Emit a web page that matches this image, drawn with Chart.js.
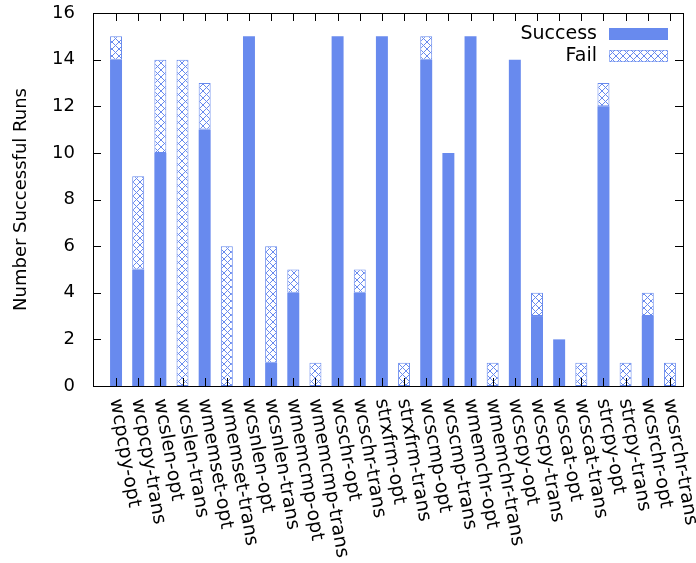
<!DOCTYPE html>
<html>
<head>
<meta charset="utf-8">
<script src="https://cdn.jsdelivr.net/npm/chart.js@4/dist/chart.umd.min.js"></script>
<style>
  html, body { margin: 0; padding: 0; background: #fff; }
  #wrap { width: 696px; height: 563px; }
</style>
</head>
<body>
<div id="wrap"><canvas id="grafico"></canvas></div>
<script>
// dados
const categorias = ['wcpcpy-opt', 'wcpcpy-trans', 'wcslen-opt', 'wcslen-trans', 'wmemset-opt', 'wmemset-trans',
    'wcsnlen-opt', 'wcsnlen-trans', 'wmemcmp-opt', 'wmemcmp-trans', 'wcschr-opt', 'wcschr-trans',
    'strxfrm-opt', 'strxfrm-trans', 'wcscmp-opt', 'wcscmp-trans', 'wmemchr-opt', 'wmemchr-trans',
    'wcscpy-opt', 'wcscpy-trans', 'wcscat-opt', 'wcscat-trans', 'strcpy-opt', 'strcpy-trans',
    'wcsrchr-opt', 'wcsrchr-trans'];
const sucesso = [14, 5, 10, 0, 11, 0, 15, 1, 4, 0, 15, 4, 15, 0, 14, 10, 15, 0, 14, 3, 2, 0, 12, 0, 3, 0];
const falha   = [1, 4, 4, 14, 2, 6, 0, 5, 1, 1, 0, 1, 0, 1, 1, 0, 0, 1, 0, 1, 0, 1, 1, 1, 1, 1];
const yTicks = [0, 2, 4, 6, 8, 10, 12, 14, 16];

const azul = 'rgb(104,138,238)';
const fonte = 'DejaVu Sans';

// padrão xadrez (hachura cruzada) para "Fail"
function criaHachura() {
    const c = document.createElement('canvas');
    c.width = 7; c.height = 7;
    const g = c.getContext('2d');
    g.fillStyle = '#fff';
    g.fillRect(0, 0, 7, 7);
    g.strokeStyle = azul;
    g.lineWidth = 1;
    g.beginPath();
    g.moveTo(0, 0); g.lineTo(7, 7);
    g.moveTo(7, 0); g.lineTo(0, 7);
    g.stroke();
    return g.createPattern(c, 'repeat');
}
const hachura = criaHachura();

// moldura, marcas internas, rótulos girados e legenda estilo gnuplot
const estiloGnuplot = {
    id: 'estiloGnuplot',
    afterDraw(chart) {
        const { ctx, chartArea: a, scales: { x, y } } = chart;
        ctx.save();
        ctx.strokeStyle = '#000';
        ctx.lineWidth = 1;
        ctx.strokeRect(a.left + 0.5, a.top + 0.5, a.right - a.left, a.bottom - a.top);
        ctx.beginPath();
        categorias.forEach((_, i) => {
            const px = Math.round(x.getPixelForValue(i)) + 0.5;
            ctx.moveTo(px, a.bottom); ctx.lineTo(px, a.bottom - 8);
            ctx.moveTo(px, a.top); ctx.lineTo(px, a.top + 8);
        });
        yTicks.forEach(v => {
            const py = Math.round(y.getPixelForValue(v)) + 0.5;
            ctx.moveTo(a.left, py); ctx.lineTo(a.left + 8, py);
            ctx.moveTo(a.right, py); ctx.lineTo(a.right - 8, py);
        });
        ctx.stroke();

        // rótulos do eixo x
        ctx.fillStyle = '#000';
        ctx.font = '19px "' + fonte + '"';
        ctx.textAlign = 'left';
        ctx.textBaseline = 'middle';
        categorias.forEach((lab, i) => {
            const px = x.getPixelForValue(i);
            ctx.save();
            ctx.translate(px - 1, a.bottom + 13);
            ctx.rotate(80 * Math.PI / 180);
            ctx.fillText(lab, 0, 0);
            ctx.restore();
        });

        // legenda
        ctx.font = '19px "' + fonte + '"';
        ctx.textAlign = 'right';
        const ds = chart.data.datasets;
        ds.forEach((d, i) => {
            const cy = 34 + i * 22;
            ctx.fillStyle = '#000';
            ctx.fillText(d.label, 597, cy);
            ctx.fillStyle = d.backgroundColor;
            ctx.fillRect(609, cy - 6, 59, 12);
            ctx.strokeStyle = 'rgba(104,138,238,0.6)';
            ctx.strokeRect(609.5, cy - 5.5, 58, 11);
        });
        ctx.restore();
    }
};

new Chart(grafico, {
    type: 'bar',
    data: {
        datasets: [
            { label: 'Success', data: sucesso.map((v, i) => ({ x: i, y: v })), backgroundColor: azul, borderWidth: 0 },
            { label: 'Fail', data: falha.map((v, i) => ({ x: i, y: v })), backgroundColor: hachura, borderColor: azul, borderWidth: 1, borderSkipped: false }
        ]
    },
    options: {
        responsive: true,
        maintainAspectRatio: false,
        animation: false,
        layout: { padding: { top: 13, right: 13, bottom: 177, left: 0 } },
        datasets: { bar: { barPercentage: 0.54, categoryPercentage: 1 } },
        plugins: { legend: { display: false }, tooltip: { enabled: false } },
        scales: {
            x: {
                type: 'linear',
                stacked: true,
                offset: false,
                min: -1.04, max: 25.59,
                display: false
            },
            y: {
                stacked: true,
                min: 0, max: 16,
                afterFit(scale) { scale.width = 93; scale.paddingTop = 0; scale.paddingBottom = 0; },
                afterBuildTicks(scale) { scale.ticks = yTicks.map(v => ({ value: v })); },
                grid: { display: false },
                border: { display: false },
                ticks: { color: '#000', padding: 10, font: { family: fonte, size: 18 } },
                title: {
                    display: true, text: 'Number Successful Runs', color: '#000',
                    font: { family: fonte, size: 18 }, padding: { top: 11, bottom: 0 }
                }
            }
        }
    },
    plugins: [estiloGnuplot]
});
</script>
</body>
</html>
